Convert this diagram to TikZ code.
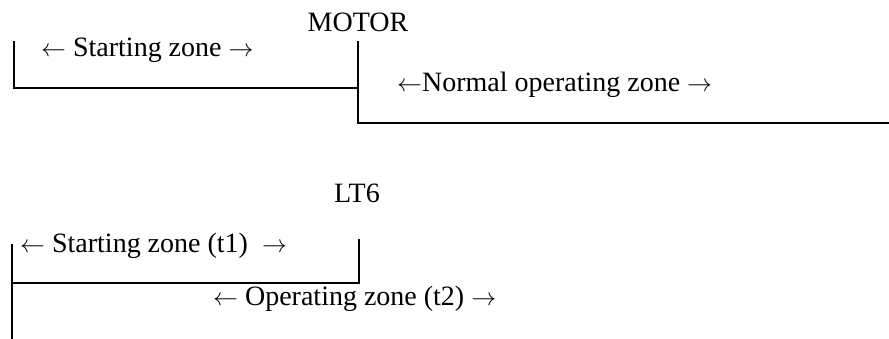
\documentclass[tikz,border=0pt]{standalone}
\usepackage{fontspec}
\setmainfont{Liberation Serif}
\begin{document}
\begin{tikzpicture}[x=1pt,y=-1pt,
  lbl/.style={inner sep=0pt,anchor=base west,font=\fontsize{28}{30}\selectfont},
  ttl/.style={inner sep=0pt,anchor=base,font=\fontsize{28}{30}\selectfont},
  bar/.style={line width=1.3pt}]
\useasboundingbox (0,0) rectangle (889,339);
% MOTOR
\node[ttl] (motor) at (358,32) {MOTOR};
\coordinate (a1) at (14,41);
\coordinate (a2) at (14,88);
\coordinate (a3) at (358,88);
\coordinate (a4) at (358,41);
\coordinate (a5) at (358,123);
\coordinate (a6) at (889,123);
\draw[bar] (a1) -- (a2) -- (a3);
\draw[bar] (a4) -- (a5) -- (a6);
\node[lbl] (sz) at (41,57) {$\leftarrow$ Starting zone $\rightarrow$};
\node[lbl] (nz) at (397,92) {$\leftarrow$Normal operating zone $\rightarrow$};
% LT6
\node[ttl] (lt6) at (357,203) {LT6};
\coordinate (b1) at (12,244);
\coordinate (b2) at (12,339);
\coordinate (b3) at (12,283);
\coordinate (b4) at (359,283);
\coordinate (b5) at (359,239);
\draw[bar] (b1) -- (b2);
\draw[bar] (b3) -- (b4) -- (b5);
\node[lbl] (st) at (20,253) {$\leftarrow$ Starting zone (t1) \ $\rightarrow$};
\node[lbl] (oz) at (213,305) {$\leftarrow$ Operating zone (t2) $\rightarrow$};
\end{tikzpicture}
\end{document}
